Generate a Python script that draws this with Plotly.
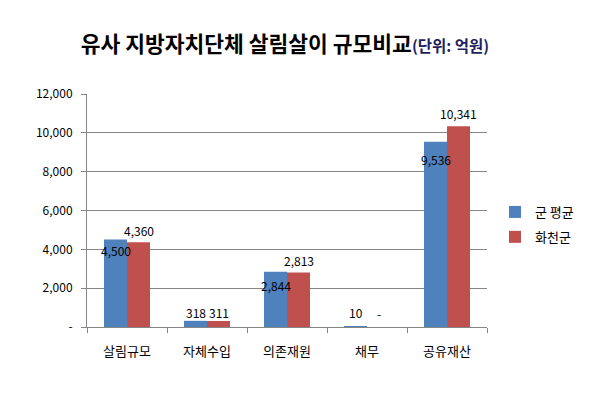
import plotly.graph_objects as go

categories = ["살림규모", "자체수입", "의존재원", "채무", "공유재산"]
avg_values = [4500, 318, 2844, 10, 9536]
hwacheon_values = [4360, 311, 2813, 0, 10341]
series_names = ["군 평균", "화천군"]
y_ticks = [0, 2000, 4000, 6000, 8000, 10000, 12000]

# label vertical offsets in px (styling only)
avg_label_shift = [-11, 8, -14, 14, -18]
hw_label_shift = [12, 8, 12, 14, 13]

BLUE = "#4F81BD"
RED = "#C0504D"
FONT = "Noto Sans CJK KR"


def fmt(v):
    return "-" if v == 0 else f"{v:,}"


fig = go.Figure()
fig.add_trace(go.Bar(x=categories, y=avg_values, name=series_names[0],
                     legendgroup="a", marker=dict(color=BLUE, line=dict(width=0))))
fig.add_trace(go.Bar(x=categories, y=hwacheon_values, name=series_names[1],
                     legendgroup="b", marker=dict(color=RED, line=dict(width=0))))

annotations = []
for i, c in enumerate(categories):
    annotations.append(dict(x=c, y=avg_values[i], xref="x", yref="y", text=fmt(avg_values[i]),
                            showarrow=False, xshift=-11.5, yshift=avg_label_shift[i],
                            xanchor="center", yanchor="middle",
                            font=dict(family=FONT, size=12, color="#000")))
    annotations.append(dict(x=c, y=hwacheon_values[i], xref="x", yref="y", text=fmt(hwacheon_values[i]),
                            showarrow=False, xshift=11.5, yshift=hw_label_shift[i],
                            xanchor="center", yanchor="middle",
                            font=dict(family=FONT, size=12, color="#000")))

fig.update_layout(
    width=592, height=394,
    margin=dict(l=87, r=105, t=94, b=67),
    paper_bgcolor="white", plot_bgcolor="white",
    barmode="group", bargap=0.425, bargroupgap=0,
    font=dict(family=FONT, size=12, color="#000"),
    title=dict(
        text="<b>유사 지방자치단체 살림살이 규모비교</b><span style='font-size:15.5px;color:#1F1F60'><b>(단위: 억원)</b></span>",
        x=285/592, xanchor="center", xref="container", y=1-44/394, yanchor="middle",
        font=dict(family=FONT, size=21.5, color="#000"),
    ),
    legend=dict(x=1.02, xanchor="left", y=0.44, yanchor="middle",
                font=dict(family=FONT, size=13, color="#000"),
                itemwidth=30, tracegroupgap=5, bgcolor="rgba(0,0,0,0)"),
    annotations=annotations,
)
fig.update_xaxes(
    showline=True, linecolor="#868686", linewidth=1,
    ticks="outside", tickson="boundaries", ticklen=5, tickcolor="#868686",
    tickfont=dict(family=FONT, size=13, color="#000"),
    ticklabelstandoff=12,
    showgrid=False,
)
fig.update_yaxes(
    range=[0, 12000], tickvals=y_ticks, ticktext=[fmt(v) for v in y_ticks],
    showline=True, linecolor="#868686", linewidth=1,
    ticks="outside", ticklen=5, tickcolor="#868686",
    showgrid=True, gridcolor="#868686", gridwidth=1,
    tickfont=dict(family=FONT, size=12, color="#000"),
    ticklabelstandoff=6,
    zeroline=False,
)

fig.write_html("out.html", config={"displayModeBar": False},
               post_script="document.body.style.margin='0';")
